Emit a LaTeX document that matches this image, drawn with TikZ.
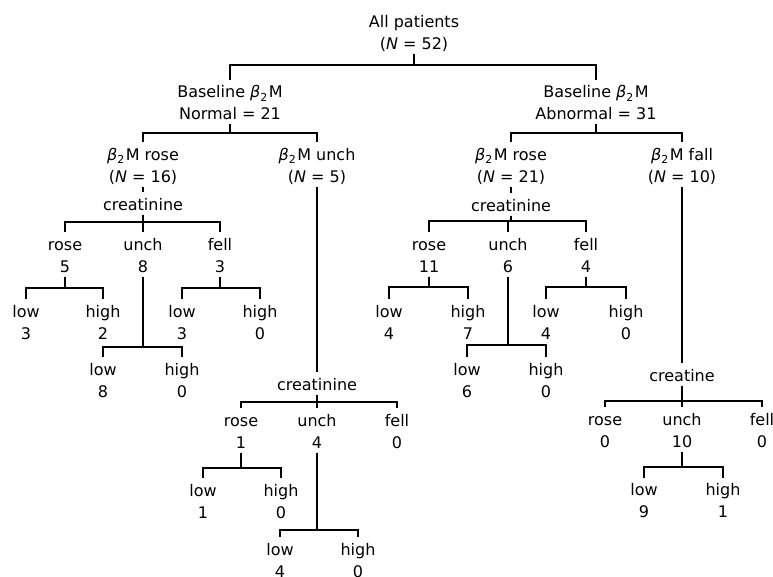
\documentclass[tikz,border=0pt]{standalone}
\usepackage{fontspec}
\setmainfont{DejaVu Sans}
\newcommand\btwoM{{\itshape β}\raisebox{-0.45ex}{\fontsize{11}{11}\selectfont 2}\kern1.5pt M}
\newcommand\NN{{\itshape N}}
\newcommand\ts{\rule[-4pt]{0pt}{17pt}}
\newcommand\twoline[2]{\ts #1\\\ts #2}
\newcommand\fork[3]{%
  \coordinate (barpt) at (0,#2);
  \foreach \c in {#3}{\draw[conn] (#1.south) -- (#1.south |- barpt) -| (\c.north);}%
}
\tikzset{
  lab/.style={align=center, inner sep=0.5pt, yshift=-2.5pt, font=\fontsize{16}{22}\selectfont},
  conn/.style={line width=2.1pt, shorten >=4pt}
}
\begin{document}
\begin{tikzpicture}[x=1pt,y=-1pt]
\useasboundingbox (0,0) rectangle (773,576);
\clip (0,0) rectangle (773,576);
% level 0-2
\node[lab] (root) at (414,31) {\twoline{All patients}{(\NN\ = 52)}};
\node[lab] (bl) at (230,101.5) {\twoline{Baseline \btwoM}{Normal = 21}};
\node[lab] (br) at (596,101.5) {\twoline{Baseline \btwoM}{Abnormal = 31}};
\fork{root}{65}{bl,br}
\node[lab] (lr) at (143,164) {\twoline{\btwoM\ rose}{(\NN\ = 16)}};
\node[lab] (lu) at (317,164) {\twoline{\btwoM\ unch}{(\NN\ = 5)}};
\fork{bl}{133}{lr,lu}
\node[lab] (rr) at (511,164) {\twoline{\btwoM\ rose}{(\NN\ = 21)}};
\node[lab] (rf) at (682,164) {\twoline{\btwoM\ fall}{(\NN\ = 10)}};
\fork{br}{133}{rr,rf}
% left: beta2M rose (N=16)
\node[lab] (c1) at (143,203) {\ts creatinine};
\draw[conn] (lr.south) -- (c1.north);
\node[lab] (a1) at (65,254) {\twoline{rose}{5}};
\node[lab] (a2) at (143,254) {\twoline{unch}{8}};
\node[lab] (a3) at (220,254) {\twoline{fell}{3}};
\fork{c1}{222}{a1,a2,a3}
\node[lab] (a11) at (26,321) {\twoline{low}{3}};
\node[lab] (a12) at (103,321) {\twoline{high}{2}};
\fork{a1}{288}{a11,a12}
\node[lab] (a21) at (103,379) {\twoline{low}{8}};
\node[lab] (a22) at (182,379) {\twoline{high}{0}};
\fork{a2}{347}{a21,a22}
\node[lab] (a31) at (182,321) {\twoline{low}{3}};
\node[lab] (a32) at (260,321) {\twoline{high}{0}};
\fork{a3}{288}{a31,a32}
% middle: beta2M unch (N=5)
\node[lab] (c2) at (317,383) {\ts creatinine};
\draw[conn] (lu.south) -- (c2.north);
\node[lab] (b1) at (241,430) {\twoline{rose}{1}};
\node[lab] (b2) at (317,430) {\twoline{unch}{4}};
\node[lab] (b3) at (397,430) {\twoline{fell}{0}};
\fork{c2}{402}{b1,b2,b3}
\node[lab] (b11) at (203,500) {\twoline{low}{1}};
\node[lab] (b12) at (281,500) {\twoline{high}{0}};
\fork{b1}{468}{b11,b12}
\node[lab] (b21) at (280,559) {\twoline{low}{4}};
\node[lab] (b22) at (358,559) {\twoline{high}{0}};
\fork{b2}{530}{b21,b22}
% right: beta2M rose (N=21)
\node[lab] (c3) at (511,204) {\ts creatinine};
\draw[conn] (rr.south) -- (c3.north);
\node[lab] (d1) at (429,254) {\twoline{rose}{11}};
\node[lab] (d2) at (508,254) {\twoline{unch}{6}};
\node[lab] (d3) at (586,254) {\twoline{fell}{4}};
\fork{c3}{221}{d1,d2,d3}
\node[lab] (d11) at (389,321) {\twoline{low}{4}};
\node[lab] (d12) at (468,321) {\twoline{high}{7}};
\fork{d1}{287}{d11,d12}
\node[lab] (d21) at (467,379) {\twoline{low}{6}};
\node[lab] (d22) at (546,379) {\twoline{high}{0}};
\fork{d2}{345}{d21,d22}
\node[lab] (d31) at (546,321) {\twoline{low}{4}};
\node[lab] (d32) at (626,321) {\twoline{high}{0}};
\fork{d3}{287}{d31,d32}
% far right: beta2M fall (N=10)
\node[lab] (c4) at (682,374) {\ts creatine};
\draw[conn] (rf.south) -- (c4.north);
\node[lab] (e1) at (605,429) {\twoline{rose}{0}};
\node[lab] (e2) at (682,429) {\twoline{unch}{10}};
\node[lab] (e3) at (762,429) {\twoline{fell}{0}};
\fork{c4}{401}{e1,e2,e3}
\node[lab] (e21) at (644,499.5) {\twoline{low}{9}};
\node[lab] (e22) at (723,499.5) {\twoline{high}{1}};
\fork{e2}{467}{e21,e22}
\end{tikzpicture}
\end{document}
